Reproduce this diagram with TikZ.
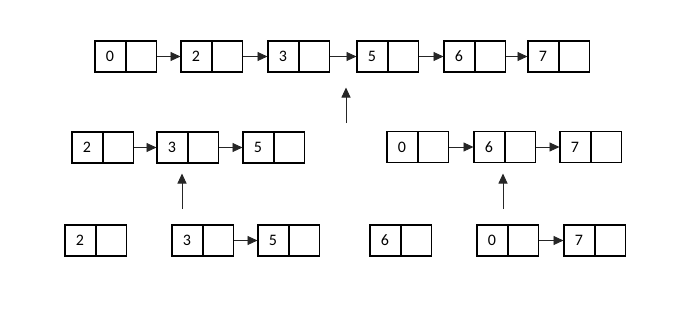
\documentclass[tikz,border=0pt]{standalone}
\usepackage{fontspec}
\setmainfont{Carlito}
\usetikzlibrary{shapes.multipart,arrows.meta}
\begin{document}
\begin{tikzpicture}[x=1pt,y=-1pt,
  elem/.style={draw=black, line width=1.6pt, rectangle split, rectangle split horizontal,
    rectangle split parts=2, inner xsep=0pt, inner ysep=0pt, text width=30pt, align=center,
    minimum height=31pt, anchor=west, font=\fontsize{16}{18}\selectfont, outer sep=0pt},
  link/.style={draw=black!85, line width=0.9pt, -{Triangle[length=10pt,width=9pt]}, shorten >=0.5pt}
]
\useasboundingbox (0,0) rectangle (699,308);
% top row
\node[elem] (t0) at (95,56.5) {0\nodepart{two}\phantom{0}};
\node[elem] (t2) at (181,56.5) {2\nodepart{two}\phantom{0}};
\node[elem] (t3) at (268,56.5) {3\nodepart{two}\phantom{0}};
\node[elem] (t5) at (357,56.5) {5\nodepart{two}\phantom{0}};
\node[elem] (t6) at (444,56.5) {6\nodepart{two}\phantom{0}};
\node[elem] (t7) at (528,56.5) {7\nodepart{two}\phantom{0}};
\draw[link] (t0) -- (t2);
\draw[link] (t2) -- (t3);
\draw[link] (t3) -- (t5);
\draw[link] (t5) -- (t6);
\draw[link] (t6) -- (t7);
% middle rows
\node[elem] (ma2) at (72,147.5) {2\nodepart{two}\phantom{0}};
\node[elem] (ma3) at (157,147.5) {3\nodepart{two}\phantom{0}};
\node[elem] (ma5) at (243,147.5) {5\nodepart{two}\phantom{0}};
\draw[link] (ma2) -- (ma3);
\draw[link] (ma3) -- (ma5);
\node[elem] (mb0) at (387,147) {0\nodepart{two}\phantom{0}};
\node[elem] (mb6) at (474,147) {6\nodepart{two}\phantom{0}};
\node[elem] (mb7) at (560,147) {7\nodepart{two}\phantom{0}};
\draw[link] (mb0) -- (mb6);
\draw[link] (mb6) -- (mb7);
% bottom row
\node[elem] (b2) at (65,240.5) {2\nodepart{two}\phantom{0}};
\node[elem] (b3) at (172,240.5) {3\nodepart{two}\phantom{0}};
\node[elem] (b5) at (258,240.5) {5\nodepart{two}\phantom{0}};
\draw[link] (b3) -- (b5);
\node[elem] (b6) at (370,240.5) {6\nodepart{two}\phantom{0}};
\node[elem] (b0) at (477,240.5) {0\nodepart{two}\phantom{0}};
\node[elem] (b7) at (564,240.5) {7\nodepart{two}\phantom{0}};
\draw[link] (b0) -- (b7);
% merge arrows
\coordinate (u1s) at (346,123);
\coordinate (u1e) at (346,87);
\coordinate (u2s) at (182,209);
\coordinate (u2e) at (182,173);
\coordinate (u3s) at (503,209);
\coordinate (u3e) at (503,173);
\draw[link] (u1s) -- (u1e);
\draw[link] (u2s) -- (u2e);
\draw[link] (u3s) -- (u3e);
\end{tikzpicture}
\end{document}
